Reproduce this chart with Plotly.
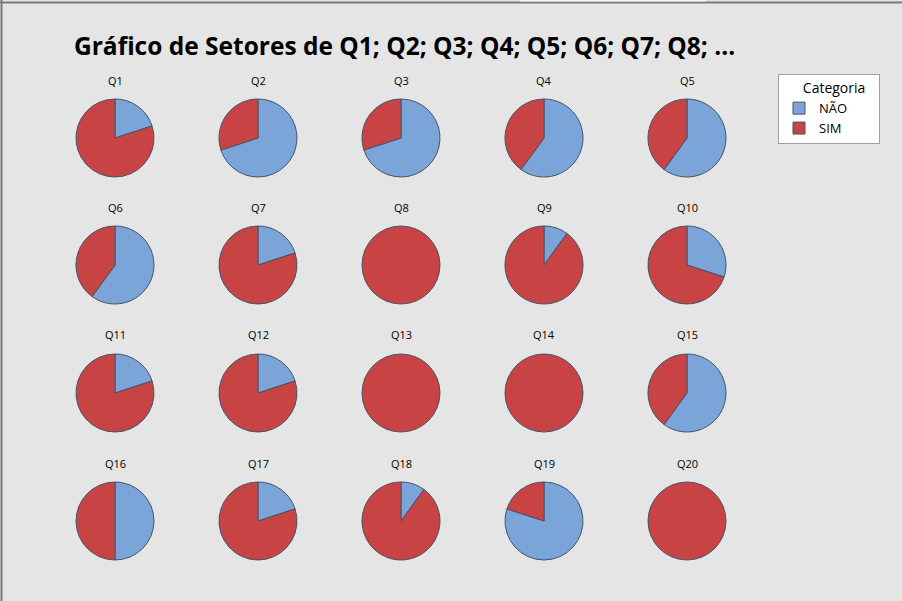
import plotly.graph_objects as go

questions = [f"Q{i}" for i in range(1, 21)]
categories = ["NÃO", "SIM"]
nao_counts = [2, 7, 7, 6, 6, 6, 2, 0, 1, 3, 2, 2, 0, 0, 6, 5, 2, 1, 8, 0]
sim_counts = [8, 3, 3, 4, 4, 4, 8, 10, 9, 7, 8, 8, 10, 10, 4, 5, 8, 9, 2, 10]

W, H = 902, 601
col_cx = [115, 258, 401, 544, 687]
row_cy = [138, 265, 393, 521]
R = 39

colors = ["#7BA4D9", "#C84444"]
FONT = "Open Sans, Noto Sans, sans-serif"

fig = go.Figure()
annotations = []
for i, q in enumerate(questions):
    r, c = divmod(i, 5)
    cx, cy = col_cx[c], row_cy[r]
    fig.add_trace(go.Pie(
        labels=categories,
        values=[nao_counts[i], sim_counts[i]],
        name=q,
        sort=False,
        direction="clockwise",
        rotation=0,
        textinfo="none",
        hoverinfo="label+value+percent",
        marker=dict(colors=colors, line=dict(color="#44546A", width=1)),
        domain=dict(x=[(cx - R) / W, (cx + R) / W], y=[1 - (cy + R) / H, 1 - (cy - R) / H]),
        showlegend=(i == 0),
    ))
    annotations.append(dict(
        text=q, x=cx / W, y=1 - (cy - 58) / H, xref="paper", yref="paper",
        showarrow=False, xanchor="center", yanchor="middle",
        font=dict(family=FONT, size=11, color="#000000"),
    ))

annotations.append(dict(
    text="<b>Gráfico de Setores de Q1; Q2; Q3; Q4; Q5; Q6; Q7; Q8; ...</b>",
    x=72 / W, y=1 - 45 / H, xref="paper", yref="paper", showarrow=False,
    xanchor="left", yanchor="middle",
    font=dict(family=FONT, size=24.5, color="#000000"),
))

shapes = [
    dict(type="line", xref="paper", yref="paper", x0=0, x1=1, y0=1 - 2.5 / H, y1=1 - 2.5 / H,
         line=dict(color="#7a7a7a", width=2)),
    dict(type="line", xref="paper", yref="paper", x0=1.5 / W, x1=1.5 / W, y0=0, y1=1,
         line=dict(color="#7a7a7a", width=2)),
    dict(type="rect", xref="paper", yref="paper", x0=520 / W, x1=706 / W, y0=1 - 1.5 / H, y1=1,
         line=dict(width=0), fillcolor="#f4f4f4"),
]

fig.update_layout(
    width=W, height=H,
    margin=dict(l=0, r=0, t=0, b=0),
    paper_bgcolor="#E5E5E5",
    plot_bgcolor="#E5E5E5",
    annotations=annotations,
    shapes=shapes,
    legend=dict(
        title=dict(text="&nbsp;&nbsp;&nbsp;&nbsp;&nbsp;&nbsp;Categoria&nbsp;&nbsp;&nbsp;",
                   font=dict(size=14, family=FONT, color="#000")),
        x=778 / W, y=1 - 74 / H, xanchor="left", yanchor="top",
        bgcolor="#FFFFFF", bordercolor="#A0A0A0", borderwidth=1,
        font=dict(size=13, family=FONT, color="#000"),
        itemwidth=30, tracegroupgap=0,
    ),
)

fig.write_html("out.html", config={"displayModeBar": False},
               post_script="document.body.style.margin='0';")
